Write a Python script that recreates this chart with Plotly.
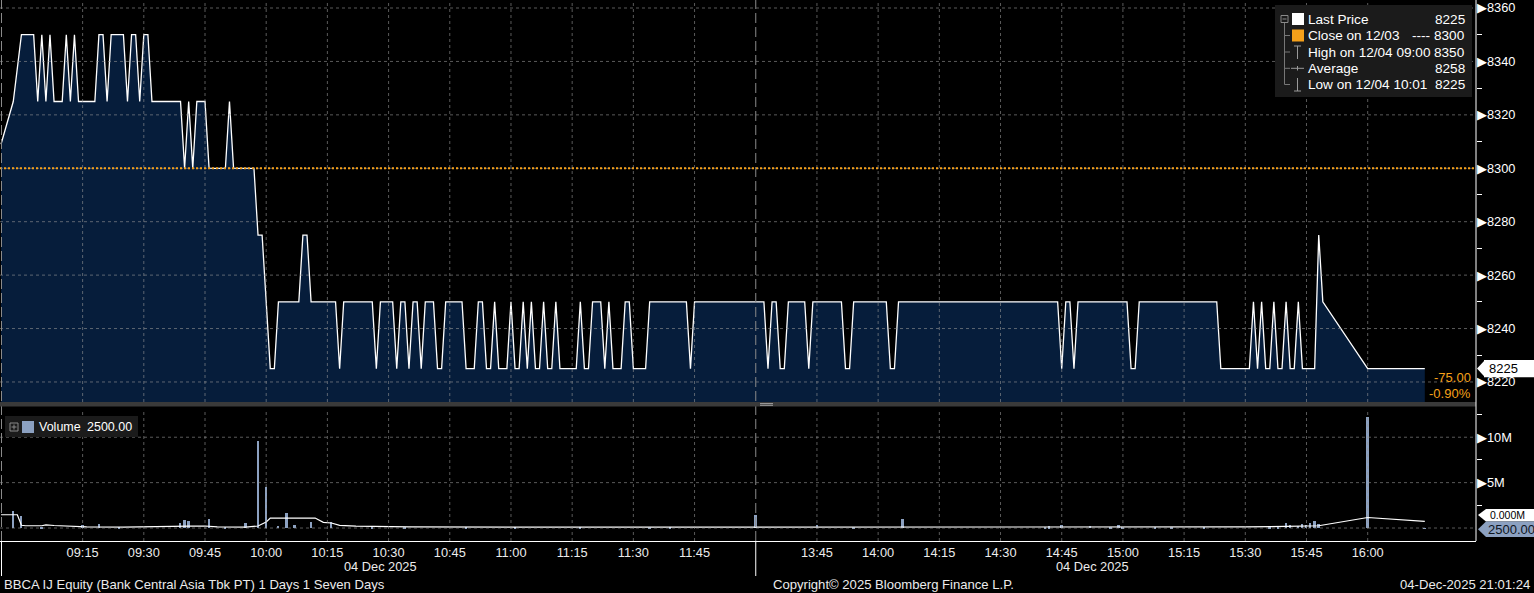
import plotly.graph_objects as go

# ---------------- data ----------------
AM_TIMES = [
    "08:55", "08:58", "09:00", "09:03", "09:04", "09:05", "09:06", "09:07", "09:08", "09:10",
    "09:11", "09:12", "09:13", "09:14", "09:18", "09:19", "09:20", "09:21", "09:22", "09:25",
    "09:26", "09:27", "09:28", "09:29", "09:30", "09:31", "09:32", "09:39", "09:40", "09:41",
    "09:42", "09:43", "09:45", "09:46", "09:50", "09:51", "09:52", "09:57", "09:58", "09:59",
    "10:01", "10:02", "10:03", "10:08", "10:09", "10:10", "10:11", "10:17", "10:18", "10:19",
    "10:26", "10:27", "10:28", "10:31", "10:32", "10:33", "10:34", "10:35", "10:36", "10:37",
    "10:38", "10:39", "10:41", "10:42", "10:43", "10:44", "10:48", "10:49", "10:51", "10:52",
    "10:53", "10:54", "10:55", "10:56", "10:57", "10:59", "11:00", "11:01", "11:02", "11:03",
    "11:04", "11:05", "11:06", "11:07", "11:08", "11:09", "11:10", "11:11", "11:12", "11:16",
    "11:17", "11:18", "11:19", "11:20", "11:22", "11:23", "11:24", "11:25", "11:27", "11:28",
    "11:29", "11:30", "11:33", "11:34", "11:43", "11:44", "11:45",
]
AM_PRICES = [
    8309, 8325, 8350, 8350, 8325, 8350, 8325, 8350, 8325, 8325,
    8350, 8325, 8350, 8325, 8325, 8350, 8350, 8325, 8350, 8350,
    8325, 8350, 8350, 8325, 8350, 8350, 8325, 8325, 8300, 8325,
    8300, 8325, 8325, 8300, 8300, 8325, 8300, 8300, 8275, 8275,
    8225, 8225, 8250, 8250, 8275, 8275, 8250, 8250, 8225, 8250,
    8250, 8225, 8250, 8250, 8225, 8250, 8250, 8225, 8250, 8250,
    8225, 8250, 8250, 8225, 8225, 8250, 8250, 8225, 8225, 8250,
    8250, 8225, 8225, 8250, 8225, 8225, 8250, 8225, 8225, 8250,
    8225, 8250, 8225, 8225, 8250, 8225, 8225, 8250, 8225, 8225,
    8250, 8225, 8225, 8250, 8250, 8225, 8250, 8225, 8225, 8250,
    8250, 8225, 8225, 8250, 8250, 8225, 8250,
]
PM_TIMES = [
    "13:32", "13:33", "13:34", "13:35", "13:36", "13:37", "13:38", "13:42", "13:43", "13:44",
    "13:51", "13:52", "13:53", "13:54", "14:02", "14:03", "14:04", "14:05", "14:44", "14:45",
    "14:46", "14:47", "14:48", "14:49", "15:01", "15:02", "15:03", "15:04", "15:23", "15:24",
    "15:31", "15:32", "15:33", "15:34", "15:35", "15:36", "15:37", "15:38", "15:39", "15:40",
    "15:41", "15:42", "15:43", "15:44", "15:47", "15:48", "15:49", "16:00", "16:14",
]
PM_PRICES = [
    8250, 8225, 8250, 8250, 8225, 8225, 8250, 8250, 8225, 8250,
    8250, 8225, 8225, 8250, 8250, 8225, 8225, 8250, 8250, 8225,
    8250, 8250, 8225, 8250, 8250, 8225, 8225, 8250, 8250, 8225,
    8225, 8250, 8225, 8250, 8225, 8225, 8250, 8225, 8225, 8250,
    8225, 8225, 8250, 8225, 8225, 8275, 8250, 8225, 8225,
]

VOL_TIMES = [
    "08:58", "09:00", "09:05", "09:15", "09:19", "09:24", "09:39", "09:40", "09:41", "09:46",
    "09:50", "09:55", "09:58", "10:00", "10:03", "10:05", "10:07", "10:11", "10:16", "10:26",
    "10:34", "10:49", "11:01", "11:17", "11:34", "11:39",
    "13:30", "13:45", "13:54", "14:06", "14:41", "14:42", "14:45", "14:52", "14:57", "14:59",
    "15:00", "15:08", "15:12", "15:20", "15:36", "15:38", "15:40", "15:41", "15:43", "15:44",
    "15:45", "15:46", "15:47", "15:48", "16:00", "16:14",
]
VOL_MILLIONS = [
    1.9, 1.3, 0.12, 0.36, 0.47, 0.15, 0.5, 0.9, 0.8, 1.0,
    0.1, 0.55, 9.6, 4.5, 0.25, 1.65, 0.36, 0.7, 0.65, 0.15,
    0.06, 0.12, 0.1, 0.1, 0.08, 0.1,
    1.4, 0.35, 0.15, 1.0, 0.15, 0.2, 0.3, 0.25, 0.1, 0.35,
    0.1, 0.08, 0.1, 0.1, 0.15, 0.2, 0.55, 0.3, 0.25, 0.4,
    0.3, 0.5, 0.8, 0.4, 12.2, 0.0025,
]
VAVG_TIMES = [
    "08:55", "08:59", "09:00", "09:01", "09:05", "09:06", "09:08", "09:12", "09:16", "09:25",
    "09:38", "09:41", "09:45", "09:48", "09:55", "09:58", "10:00", "10:01", "10:12", "10:14",
    "10:16", "10:18", "10:22", "10:35", "11:00", "11:59",
    "13:30", "14:00", "14:30", "15:00", "15:30", "15:40", "15:48", "16:00", "16:05", "16:14",
]
VAVG_MILLIONS = [
    1.46, 1.46, 0.3, 0.25, 0.25, 0.35, 0.28, 0.2, 0.12, 0.1,
    0.12, 0.2, 0.22, 0.12, 0.1, 0.22, 0.66, 1.1, 1.1, 0.62,
    0.55, 0.3, 0.2, 0.12, 0.1, 0.08,
    0.1, 0.12, 0.1, 0.12, 0.12, 0.18, 0.25, 1.16, 1.02, 0.73,
]

PREV_CLOSE = 8300
AVG_PRICE = 8258
X_TICK_LABELS = ["09:15", "09:30", "09:45", "10:00", "10:15", "10:30", "10:45", "11:00",
                 "11:15", "11:30", "11:45", "13:45", "14:00", "14:15", "14:30", "14:45",
                 "15:00", "15:15", "15:30", "15:45", "16:00"]
PRICE_TICKS = [8220, 8240, 8260, 8280, 8300, 8320, 8340, 8360]
PRICE_MINOR = [8230, 8250, 8270, 8290, 8310, 8330, 8350]
VOL_TICKS = [0, 5, 10]
VOL_TICK_TEXT = ["", "5M", "10M"]
VOL_MINOR = [2.5, 7.5, 12.5]

# ---------------- geometry helpers ----------------
W, H = 1534, 593
MR, MB = 58, 52
PW, PH = W - MR, H - MB          # plot area 1476 x 541


def PX(x):
    return x / PW


def PY(y):
    return 1 - y / PH


def tpos(t):
    """session minutes from 09:00, lunch break (12:00-13:30) removed"""
    h, m = t.split(":")
    v = int(h) * 60 + int(m) - 540
    return v - 90 if v >= 270 else v


FONT = "Liberation Sans, Arial, sans-serif"
BG = "#000000"
GRID = "rgba(150,150,150,0.6)"
ORANGE = "#f5a01a"
VOLC = "#8ca1c1"
TXT = "#ececec"

times = AM_TIMES + PM_TIMES
prices = AM_PRICES + PM_PRICES
assert len(times) == len(prices)
assert len(VOL_TIMES) == len(VOL_MILLIONS)
assert len(VAVG_TIMES) == len(VAVG_MILLIONS)

last = prices[-1]
high = max(prices)
low = min(prices)
high_t = times[prices.index(high)]
low_t = times[prices.index(low)]
chg = last - PREV_CLOSE
pct = chg / PREV_CLOSE * 100
last_vol = VOL_MILLIONS[-1] * 1e6

fig = go.Figure()
fig.add_trace(go.Scatter(
    x=[tpos(t) for t in times], y=prices, mode="lines",
    line=dict(color="white", width=1.3), fill="tozeroy", fillcolor="#061d3b",
    xaxis="x", yaxis="y", hoverinfo="skip", showlegend=False))
fig.add_trace(go.Bar(
    x=[tpos(t) for t in VOL_TIMES], y=VOL_MILLIONS, width=0.45,
    marker=dict(color=VOLC, line=dict(width=0)),
    xaxis="x", yaxis="y2", hoverinfo="skip", showlegend=False))
fig.add_trace(go.Scatter(
    x=[tpos(t) for t in VAVG_TIMES], y=VAVG_MILLIONS, mode="lines",
    line=dict(color="white", width=1.2),
    xaxis="x", yaxis="y2", hoverinfo="skip", showlegend=False))

shapes = []


def line(x0, y0, x1, y1, color, width=1, dash=None, xref="paper", yref="paper"):
    ln = dict(color=color, width=width)
    if dash:
        ln["dash"] = dash
    shapes.append(dict(type="line", x0=x0, y0=y0, x1=x1, y1=y1, xref=xref, yref=yref,
                       layer="above", line=ln))


def rect(x0, y0, x1, y1, fill, xref="paper", yref="paper", lc=None):
    shapes.append(dict(type="rect", x0=x0, y0=y0, x1=x1, y1=y1, xref=xref, yref=yref,
                       layer="above", fillcolor=fill,
                       line=dict(width=1 if lc else 0, color=lc or fill)))


# grid lines (drawn as shapes so they show over the filled area)
for v in PRICE_TICKS:
    line(0, v, 1, v, GRID, dash="3px,3px", xref="x domain", yref="y")
for v in VOL_TICKS:
    line(0, v, 1, v, GRID, dash="3px,3px", xref="x domain", yref="y2")
for t in X_TICK_LABELS:
    line(tpos(t), 0, tpos(t), 1, GRID, dash="3px,3px", xref="x", yref="y domain")
    line(tpos(t), 0, tpos(t), 1, GRID, dash="3px,3px", xref="x", yref="y2 domain")

# previous close
line(0, PREV_CLOSE, 1, PREV_CLOSE, ORANGE, width=2, dash="2px,2px", xref="x domain", yref="y")

# session start / lunch break markers
line(PX(1.5), 0, PX(1.5), 1, "#8a8a8a", dash="10px,4px")
line(tpos("12:00"), 0, tpos("12:00"), 1, "#8a8a8a", dash="10px,4px", xref="x")
line(PX(1.5), PY(541), PX(1.5), PY(576), "white")
line(tpos("12:00"), PY(541), tpos("12:00"), PY(576), "white", xref="x")

# separator between panels
rect(0, PY(406.5), 1, PY(402), "#3a3a3a")
line(PX(760), PY(403.6), PX(773), PY(403.6), "#a0a0a0")
line(PX(760), PY(405.3), PX(773), PY(405.3), "#a0a0a0")

# right axis line
line(1, 0, 1, 1, "white")

# price legend box
rect(PX(1275), PY(97), PX(1472), PY(5), "#1b1b1b")
rows = [19, 35.5, 52, 68.3, 84.5]
line(PX(1284.5), PY(22), PX(1284.5), PY(rows[-1]), "#777777")
for r in rows[1:]:
    line(PX(1284.5), PY(r), PX(1290), PY(r), "#777777")
rect(PX(1281), PY(22.5), PX(1288), PY(15.5), "#1b1b1b", lc="#8a8a8a")
line(PX(1282.5), PY(19), PX(1286.5), PY(19), "#8a8a8a")
rect(PX(1292), PY(25), PX(1304), PY(13), "white")
rect(PX(1292), PY(41.5), PX(1304), PY(29.5), ORANGE)
line(PX(1297.5), PY(46), PX(1297.5), PY(59), "#9a9a9a")
line(PX(1294), PY(46), PX(1301), PY(46), "#9a9a9a")
line(PX(1291), PY(68.3), PX(1304), PY(68.3), "#9a9a9a")
line(PX(1297.5), PY(66), PX(1297.5), PY(70.5), "#9a9a9a")
line(PX(1297.5), PY(78), PX(1297.5), PY(91), "#9a9a9a")
line(PX(1294), PY(91), PX(1301), PY(91), "#9a9a9a")

# volume legend box
rect(PX(5), PY(437), PX(138), PY(416), "#1b1b1b")
rect(PX(10), PY(431), PX(18), PY(423), "#1b1b1b", lc="#8a8a8a")
line(PX(11.5), PY(427), PX(16.5), PY(427), "#8a8a8a")
line(PX(14), PY(424.5), PX(14), PY(429.5), "#8a8a8a")
rect(PX(22), PY(433), PX(34), PY(421), VOLC)

# last price label with arrow
rect(PX(1484), last - 3.2, PX(1534), last + 3.2, "white", yref="y")
shapes.append(dict(type="path", xref="paper", yref="y", layer="above",
                   path=f"M {PX(1477)} {last} L {PX(1485)} {last + 3.2} L {PX(1485)} {last - 3.2} Z",
                   fillcolor="white", line=dict(width=0)))

# volume labels (moving-average label partly behind the last-volume label)
rect(PX(1486), PY(521.5), PX(1534), PY(509), "white")
shapes.append(dict(type="path", xref="paper", yref="paper", layer="above",
                   path=f"M {PX(1478)} {PY(515)} L {PX(1486)} {PY(509)} L {PX(1486)} {PY(521.5)} Z",
                   fillcolor="white", line=dict(width=0)))
rect(PX(1486), PY(537), PX(1534), PY(521.5), VOLC)
shapes.append(dict(type="path", xref="paper", yref="paper", layer="above",
                   path=f"M {PX(1478)} {PY(529.2)} L {PX(1486)} {PY(521.5)} L {PX(1486)} {PY(537)} Z",
                   fillcolor=VOLC, line=dict(width=0)))

ann = []


def text(x, y, s, color="white", size=12.5, xanchor="left", yref="paper", yanchor="middle"):
    ann.append(dict(x=x, y=y, xref="paper", yref=yref, text=s, showarrow=False,
                    xanchor=xanchor, yanchor=yanchor,
                    font=dict(family=FONT, size=size, color=color)))


legend_rows = [
    ("Last Price", "", f"{last}"),
    ("Close on 12/03", "----", f"{PREV_CLOSE}"),
    (f"High on 12/04 {high_t}", "", f"{high}"),
    ("Average", "", f"{AVG_PRICE}"),
    (f"Low on 12/04 {low_t}", "", f"{low}"),
]
for r, (lab, mid, val) in zip(rows, legend_rows):
    text(PX(1306), PY(r), lab, size=13.6)
    if mid:
        text(PX(1432), PY(r), mid, xanchor="right", size=13.6)
    text(PX(1467), PY(r), val, xanchor="right", size=13.6)

text(PX(37), PY(427), "Volume")
text(PX(85), PY(427), f"{last_vol:.2f}")

text(PX(1487), last, f"{last}", color="black", yref="y", size=13)
text(PX(1473), PY(377), f"{chg:.2f}", color=ORANGE, xanchor="right", size=13)
text(PX(1473), PY(393), f"{pct:.2f}%", color=ORANGE, xanchor="right", size=13)
text(PX(1488), PY(515), "0.000M", color="black", size=10.5)
text(PX(1486), PY(529.5), f"{last_vol:.2f}", color="#0e1522", size=13)

text(PX(380), PY(566), "04 Dec 2025", color=TXT, xanchor="center", size=12.8)
text(PX(1092), PY(566), "04 Dec 2025", color=TXT, xanchor="center", size=12.8)
text(PX(2), PY(584), "BBCA IJ Equity (Bank Central Asia Tbk PT) 1 Days 1 Seven Days", color=TXT, size=13.1)
text(PX(771), PY(584), "Copyright\u00a9 2025 Bloomberg Finance L.P.", color=TXT, size=13.1)
text(PX(1532), PY(584), "04-Dec-2025 21:01:24", color=TXT, xanchor="right", size=13.1)

fig.update_layout(
    width=W, height=H, autosize=False,
    margin=dict(l=0, r=MR, t=0, b=MB, pad=0),
    paper_bgcolor=BG, plot_bgcolor=BG,
    showlegend=False, bargap=0,
    font=dict(family=FONT, size=12.5, color="white"),
    xaxis=dict(
        range=[-5.25, 356.55], anchor="y2",
        tickmode="array", tickvals=[tpos(t) for t in X_TICK_LABELS], ticktext=X_TICK_LABELS,
        showgrid=False, zeroline=False, showline=True, linecolor="white", linewidth=1,
        ticks="", tickfont=dict(family=FONT, size=12.8, color=TXT), fixedrange=True,
    ),
    yaxis=dict(
        domain=[1 - 402 / PH, 1], range=[8212.5, 8363], side="right", anchor="x",
        tickmode="array", tickvals=PRICE_TICKS, ticktext=["\u25b6" + str(v) for v in PRICE_TICKS],
        showgrid=False, zeroline=False, showline=False, ticks="",
        minor=dict(tickvals=PRICE_MINOR, ticks="outside", ticklen=5, tickcolor="white", showgrid=False),
        tickfont=dict(family=FONT, size=12.8, color="white"), fixedrange=True,
    ),
    yaxis2=dict(
        domain=[0, 1 - 410 / PH], range=[-1.43, 13.0], side="right", anchor="x",
        tickmode="array", tickvals=VOL_TICKS, ticktext=[("\u25b6" + s) if s else "" for s in VOL_TICK_TEXT],
        showgrid=False, zeroline=False, showline=False, ticks="",
        minor=dict(tickvals=VOL_MINOR, ticks="outside", ticklen=5, tickcolor="white", showgrid=False),
        tickfont=dict(family=FONT, size=12.8, color="white"), fixedrange=True,
    ),
    shapes=shapes, annotations=ann,
)

fig.write_html("out.html", config={"displayModeBar": False},
               post_script="document.body.style.margin='0';document.body.style.overflow='hidden';")
